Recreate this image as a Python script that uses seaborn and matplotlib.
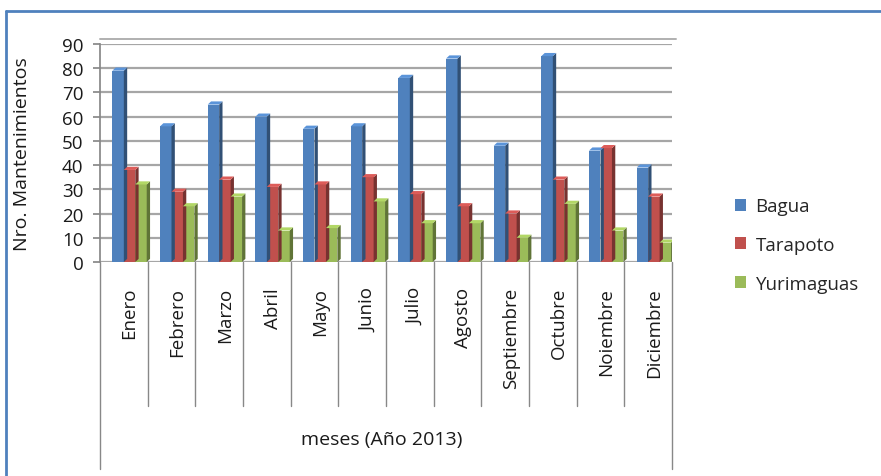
import matplotlib
matplotlib.use("Agg")
import matplotlib.pyplot as plt
import matplotlib.transforms as mtransforms
from matplotlib.lines import Line2D
from matplotlib.patches import Patch, Polygon
import matplotlib.colors as mcolors
import seaborn as sns
import pandas as pd

meses = ["Enero", "Febrero", "Marzo", "Abril", "Mayo", "Junio", "Julio",
         "Agosto", "Septiembre", "Octubre", "Noiembre", "Diciembre"]
series = ["Bagua", "Tarapoto", "Yurimaguas"]
bagua = [79, 56, 65, 60, 55, 56, 76, 84, 48, 85, 46, 39]
tarapoto = [38, 29, 34, 31, 32, 35, 28, 23, 20, 34, 47, 27]
yurimaguas = [32, 23, 27, 13, 14, 25, 16, 16, 10, 24, 13, 8]
yticks = [0, 10, 20, 30, 40, 50, 60, 70, 80, 90]
colors = ["#4F81BD", "#C0504D", "#9BBB59"]

df = pd.DataFrame({
    "mes": meses * 3,
    "serie": [s for s in series for _ in meses],
    "valor": bagua + tarapoto + yurimaguas,
})

sns.set_theme(style="white")
plt.rcParams["font.family"] = ["Open Sans", "DejaVu Sans"]
FS = 13.5
TXT = "#1a1a1a"

W, H = 881, 477
fig = plt.figure(figsize=(W / 100, H / 100), dpi=100)
x0, x1, y0, y1 = 100, 672, 263, 45
ax = fig.add_axes([x0 / W, 1 - y0 / H, (x1 - x0) / W, (y0 - y1) / H])

sns.barplot(data=df, x="mes", y="valor", hue="serie", palette=colors,
            order=meses, hue_order=series, width=0.72, ax=ax,
            legend=False, edgecolor="none", saturation=1)

# pseudo-3D side faces derived from the drawn bars
dx, dy = 0.07, 1.3
for patch in list(ax.patches):
    patch.set_linewidth(0)
    bx, bw, bh = patch.get_x(), patch.get_width(), patch.get_height()
    if bh <= 0:
        continue
    fc = mcolors.to_rgb(patch.get_facecolor())
    dark = tuple(c * 0.62 for c in fc)
    light = tuple(min(1, c * 1.15) for c in fc)
    side = Polygon([(bx + bw, 0), (bx + bw + dx, dy), (bx + bw + dx, bh + dy), (bx + bw, bh)],
                   closed=True, facecolor=dark, edgecolor="none", zorder=patch.get_zorder())
    top = Polygon([(bx, bh), (bx + dx, bh + dy), (bx + bw + dx, bh + dy), (bx + bw, bh)],
                  closed=True, facecolor=light, edgecolor="none", zorder=patch.get_zorder())
    ax.add_patch(side)
    ax.add_patch(top)

ax.set_ylim(0, 90)
ax.set_xlim(-0.62, len(meses) - 0.62)
ax.set_yticks(yticks)
ax.set_yticklabels([str(v) for v in yticks], fontsize=FS, color=TXT)
ax.grid(axis="y", color="#a6a6a6", linewidth=1.6)
ax.set_axisbelow(True)
for s in ["top", "right", "bottom"]:
    ax.spines[s].set_visible(False)
ax.spines["left"].set_color("#888888")
ax.tick_params(axis="y", left=True, length=5, color="#888888", pad=7)
ax.set_xticks(range(len(meses)))
ax.set_xticklabels(meses, rotation=90, fontsize=FS, color=TXT, va="top")
ax.tick_params(axis="x", bottom=False, pad=12)
ax.set_xlabel("")
ax.set_ylabel("Nro. Mantenimientos", fontsize=14, color=TXT, labelpad=22)

# back wall top line
fig.add_artist(Line2D([x0 / W, 676 / W], [1 - 40 / H, 1 - 40 / H],
                      color="#b0b0b0", lw=1.4, transform=fig.transFigure))

# category separators
bt = mtransforms.blended_transform_factory(ax.transData, fig.transFigure)
for i in range(len(meses) + 1):
    xb = i - 0.62
    bottom = 470 if i in (0, len(meses)) else 407
    ax.add_artist(Line2D([xb, xb], [1 - 263 / H, 1 - bottom / H], color="#888888",
                         lw=1.0, transform=bt, clip_on=False))
fig.text(382 / W, 1 - 440 / H, "meses (Año 2013)", ha="center", va="center",
         fontsize=14, color=TXT)

# legend
handles = [Patch(facecolor=c, edgecolor="none") for c in colors]
fig.legend(handles, series, loc="center left", bbox_to_anchor=(718 / W, 1 - 246 / H),
           frameon=False, fontsize=FS, handlelength=0.6, handleheight=0.6,
           labelspacing=1.1, handletextpad=0.5)

# outer blue border
fig.add_artist(Line2D([6 / W, 1.0], [1 - 12 / H, 1 - 12 / H], color="#4F81BD",
                      lw=2, transform=fig.transFigure))
fig.add_artist(Line2D([6 / W, 6 / W], [0, 1 - 12 / H], color="#4F81BD",
                      lw=2, transform=fig.transFigure))

fig.savefig("out.png", dpi=100)
